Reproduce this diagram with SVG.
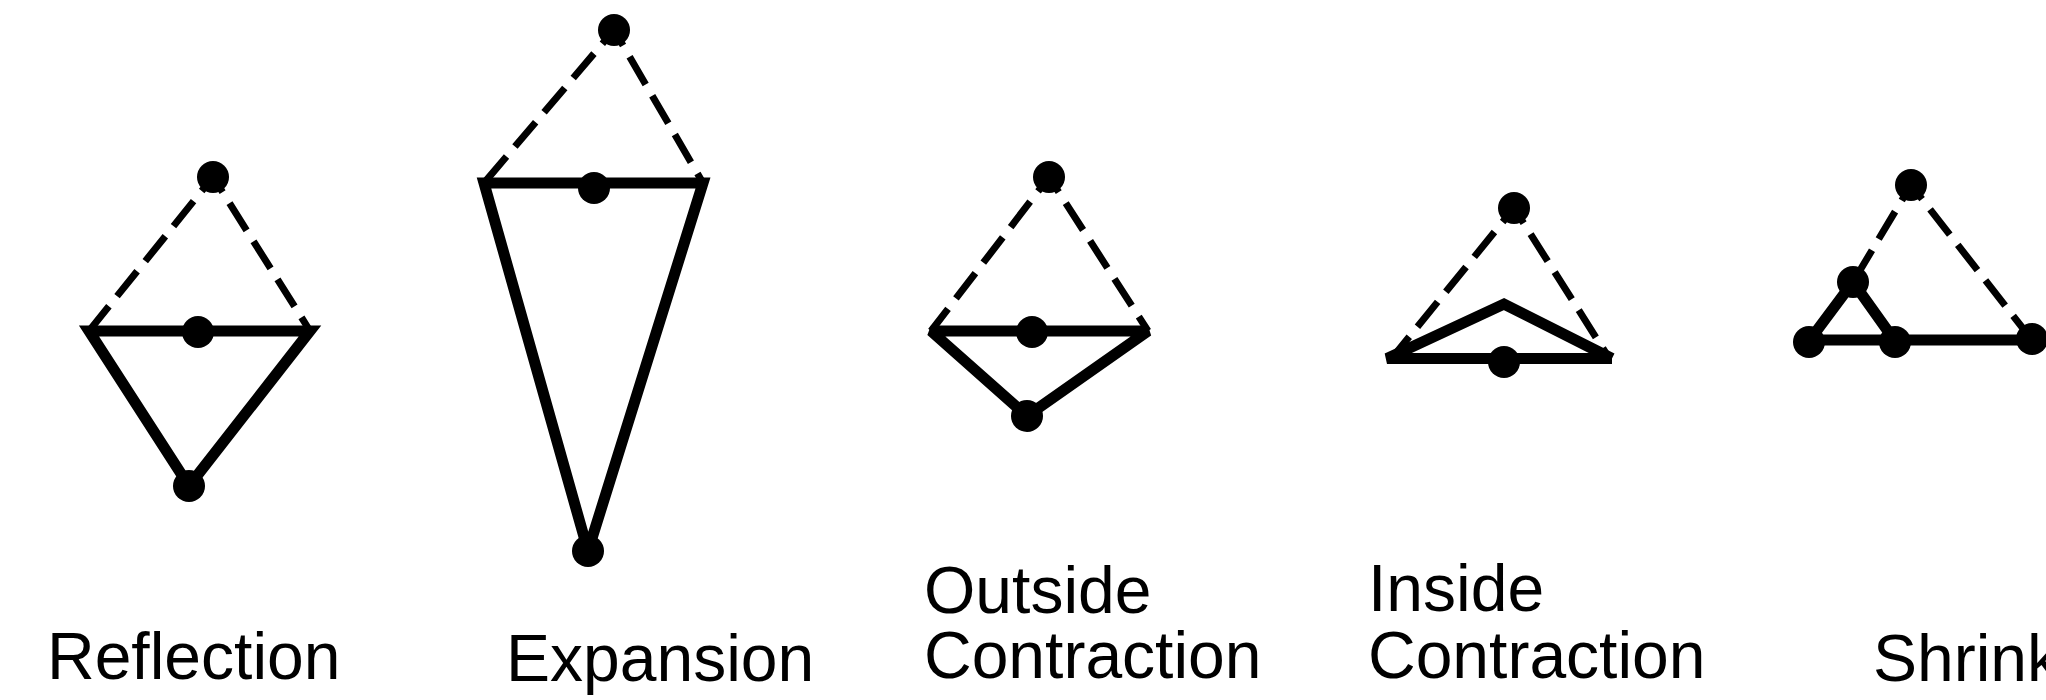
<svg xmlns="http://www.w3.org/2000/svg" width="2046" height="700" viewBox="0 0 2046 700">
  <style>
    .solid { fill: none; stroke: #000; stroke-width: 11; stroke-linejoin: miter; stroke-miterlimit: 2.5; }
    .dash { fill: none; stroke: #000; stroke-width: 7; stroke-dasharray: 32 13; stroke-dashoffset: 14; }
    .dot { fill: #000; }
    .lbl { font-family: "Liberation Sans", Arial, sans-serif; font-size: 66px; fill: #000; }
  </style>
  <rect width="2046" height="700" fill="#fff"/>

  <g id="connectors">
    <!-- Reflection -->
    <line class="dash" x1="213" y1="177" x2="89" y2="331"/>
    <line class="dash" x1="213" y1="177" x2="310" y2="331"/>
    <polygon class="solid" points="89,331 310,331 189,486"/>
    <!-- Expansion -->
    <line class="dash" x1="614" y1="30" x2="484" y2="183"/>
    <line class="dash" x1="614" y1="30" x2="703" y2="183"/>
    <polygon class="solid" points="484,183 703,183 588,551"/>
    <!-- Outside Contraction -->
    <line class="dash" x1="1049" y1="177" x2="931" y2="331"/>
    <line class="dash" x1="1049" y1="177" x2="1148" y2="331"/>
    <polygon class="solid" points="931,331 1148,331 1027,416"/>
    <!-- Inside Contraction -->
    <line class="dash" x1="1514" y1="208" x2="1392" y2="358"/>
    <line class="dash" x1="1514" y1="208" x2="1609" y2="358"/>
    <polyline class="solid" points="1612,358.5 1387,358.5 1504,304 1612,358.5"/>
    <!-- Shrink -->
    <line class="dash" x1="1911" y1="185" x2="1853" y2="282"/>
    <line class="dash" x1="1911" y1="185" x2="2032" y2="340"/>
    <polyline class="solid" points="1809,341 1853,282 1895,341"/>
    <line class="solid" x1="1809" y1="340" x2="2032" y2="340"/>
  </g>

  <g id="reflection">
    <circle class="dot" cx="213" cy="177" r="16"/>
    <circle class="dot" cx="198" cy="332" r="16"/>
    <circle class="dot" cx="189" cy="486" r="16"/>
    <text class="lbl" x="47" y="679">Reflection</text>
  </g>

  <g id="expansion">
    <circle class="dot" cx="614" cy="30" r="16"/>
    <circle class="dot" cx="594" cy="188" r="16"/>
    <circle class="dot" cx="588" cy="551" r="16"/>
    <text class="lbl" x="506" y="681">Expansion</text>
  </g>

  <g id="outside-contraction">
    <circle class="dot" cx="1049" cy="177" r="16"/>
    <circle class="dot" cx="1032" cy="332" r="16"/>
    <circle class="dot" cx="1027" cy="416" r="16"/>
    <text class="lbl" x="924" y="613">Outside</text>
    <text class="lbl" x="924" y="678">Contraction</text>
  </g>

  <g id="inside-contraction">
    <circle class="dot" cx="1514" cy="208" r="16"/>
    <circle class="dot" cx="1504" cy="362" r="16"/>
    <text class="lbl" x="1368" y="611">Inside</text>
    <text class="lbl" x="1368" y="678">Contraction</text>
  </g>

  <g id="shrink">
    <circle class="dot" cx="1911" cy="185" r="16"/>
    <circle class="dot" cx="1853" cy="282" r="16"/>
    <circle class="dot" cx="1809" cy="342" r="16"/>
    <circle class="dot" cx="1895" cy="342" r="16"/>
    <circle class="dot" cx="2032" cy="339" r="16"/>
    <text class="lbl" x="1873" y="681">Shrink</text>
  </g>
</svg>
